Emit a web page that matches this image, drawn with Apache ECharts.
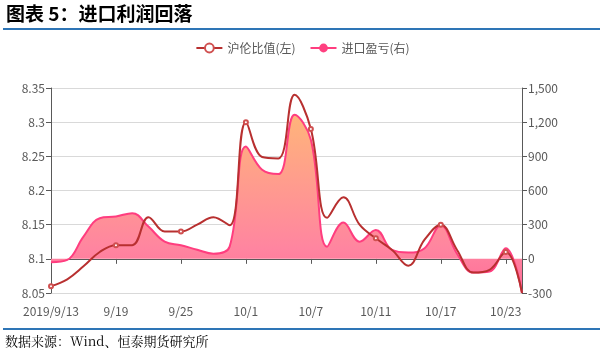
<!DOCTYPE html>
<html>
<head>
<meta charset="utf-8">
<script src="https://cdn.jsdelivr.net/npm/echarts@6/dist/echarts.min.js"></script>
<style>
  html, body { margin: 0; padding: 0; background: #fff; }
  #main { width: 605px; height: 353px; }
</style>
</head>
<body>
<div id="main"></div>
<script>
// 交易日（工作日）
var dates = ['2019/9/13','9/16','9/17','9/18','9/19','9/20','9/23','9/24','9/25','9/26',
             '9/27','9/30','10/1','10/2','10/3','10/4','10/7','10/8','10/9','10/10',
             '10/11','10/14','10/15','10/16','10/17','10/18','10/21','10/22','10/23','10/24'];

// 沪伦比值(左)
var ratio = [8.06, 8.07, 8.089, 8.11, 8.12, 8.12, 8.161, 8.14, 8.14, 8.15,
             8.161, 8.149, 8.30, 8.249, 8.247, 8.34, 8.29, 8.16, 8.19, 8.15,
             8.13, 8.113, 8.09, 8.128, 8.15, 8.113, 8.08, 8.084, 8.11, 8.05];

// 进口盈亏(右)
var profit = [-30, -10, 195, 357, 371, 401, 283, 151, 120, 80,
              45, 107, 986, 782, 744, 1265, 1045, 107, 318, 151,
              254, 78, 55, 93, 295, 45, -121, -112, 93, -300];

var leftTicks = {min: 8.05, max: 8.35, interval: 0.05};
var rightTicks = {min: -300, max: 1500, interval: 300};

var myChart = echarts.init(document.getElementById('main'));

var option = {
    animation: false,
    textStyle: {fontFamily: '"Microsoft YaHei","Noto Sans CJK SC",sans-serif'},
    graphic: [
        {type: 'text', left: 6, top: 4,
         style: {text: '图表 5：进口利润回落', fontSize: 19, fontWeight: 'bold', fill: '#000',
                 fontFamily: '"Noto Sans CJK SC",sans-serif'}},
        {type: 'rect', shape: {x: 3, y: 28, width: 597, height: 2}, style: {fill: '#2e75b6'}},
        {type: 'rect', shape: {x: 3, y: 328, width: 597, height: 2}, style: {fill: '#2e75b6'}},
        {type: 'text', left: 5, top: 335,
         style: {text: '数据来源：Wind、恒泰期货研究所', fontSize: 13, fill: '#000',
                 fontFamily: '"Noto Serif CJK SC","Liberation Serif",serif'}}
    ],
    legend: {
        top: 37,
        left: 'center',
        itemWidth: 26,
        itemHeight: 11,
        itemGap: 14,
        textStyle: {color: '#595959', fontSize: 12},
        data: ['沪伦比值(左)', '进口盈亏(右)']
    },
    grid: {left: 51, right: 83, top: 88, bottom: 60},
    xAxis: [
        {
            type: 'category',
            boundaryGap: false,
            data: dates,
            axisLine: {show: false},
            axisTick: {show: false},
            axisLabel: {interval: 3, color: '#595959', fontSize: 12, margin: 12},
            splitLine: {show: false}
        },
        {
            type: 'category',
            boundaryGap: false,
            data: dates,
            position: 'bottom',
            axisLine: {onZero: true, onZeroAxisIndex: 1, lineStyle: {color: '#595959', width: 1}},
            axisTick: {interval: 3, length: 5, lineStyle: {color: '#595959'}},
            axisLabel: {show: false},
            splitLine: {show: false}
        }
    ],
    yAxis: [
        {
            type: 'value',
            min: leftTicks.min, max: leftTicks.max, interval: leftTicks.interval,
            axisLine: {show: true, lineStyle: {color: '#595959'}},
            axisTick: {show: true, length: 5, lineStyle: {color: '#595959'}},
            axisLabel: {color: '#595959', fontSize: 12, margin: 6,
                        formatter: function (v) { return +v.toFixed(2) + ''; }},
            splitLine: {lineStyle: {color: '#d9d9d9', width: 1}}
        },
        {
            type: 'value',
            min: rightTicks.min, max: rightTicks.max, interval: rightTicks.interval,
            axisLine: {show: true, lineStyle: {color: '#595959'}},
            axisTick: {show: true, length: 5, lineStyle: {color: '#595959'}},
            axisLabel: {color: '#595959', fontSize: 12, margin: 6,
                        formatter: function (v) { return v.toLocaleString('en-US'); }},
            splitLine: {show: false}
        }
    ],
    series: [
        {
            name: '进口盈亏(右)',
            type: 'line',
            xAxisIndex: 0,
            yAxisIndex: 1,
            smooth: 0.4,
            symbol: 'circle',
            symbolSize: 9,
            showSymbol: false,
            itemStyle: {color: '#ff4080'},
            lineStyle: {color: '#ff3d7f', width: 2},
            areaStyle: {
                opacity: 1,
                color: new echarts.graphic.LinearGradient(0, 0, 0, 1, [
                    {offset: 0, color: '#ffb47a'},
                    {offset: 0.75, color: '#ff85a0'},
                    {offset: 1, color: '#ff6b97'}
                ])
            },
            data: profit,
            z: 2
        },
        {
            name: '沪伦比值(左)',
            type: 'line',
            xAxisIndex: 0,
            yAxisIndex: 0,
            smooth: 0.4,
            symbol: 'emptyCircle',
            symbolSize: 4,
            showAllSymbol: false,
            itemStyle: {color: '#d05050', borderColor: '#d05050', borderWidth: 1},
            lineStyle: {color: '#b83030', width: 2},
            data: ratio,
            z: 3
        }
    ]
};

myChart.setOption(option);
</script>
</body>
</html>
